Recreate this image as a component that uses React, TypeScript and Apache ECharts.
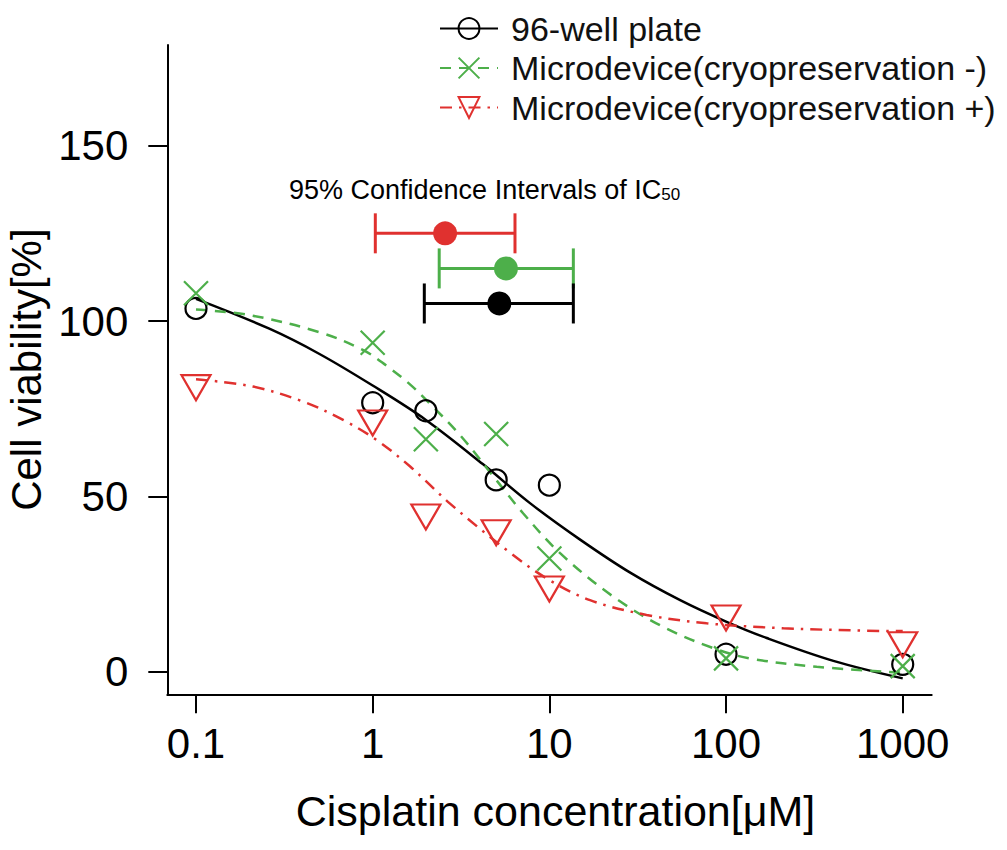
import React, { useEffect, useRef } from 'react';
import * as echarts from 'echarts';

// ---------------- data ----------------
const seriesNames = ['96-well plate', 'Microdevice(cryopreservation -)', 'Microdevice(cryopreservation +)'];

// measured points (concentration in µM, viability in %)
const conc = [0.1, 1, 2, 5, 10, 100, 1000];
const plateViability = [103.6, 76.7, 74.4, 54.7, 53.2, 5.0, 2.1];
const cryoMinusViability = [107.9, 93.8, 66.3, 67.8, 32.3, 3.8, 1.6];
const cryoPlusViability = [82.2, 72.1, 45.3, 40.8, 24.8, 16.5, 8.9];

// fitted dose-response curves
const plateFitConc = [0.1, 0.26, 0.5, 1, 2, 4.2, 7.8, 15, 29, 55, 100, 170, 405, 1000];
const plateFitViability = [106.3, 97.8, 90.6, 81.6, 71.8, 59.2, 48.0, 37.6, 28.1, 20.4, 14.3, 9.6, 3.1, -1.9];

const cryoMinusFitConc = [0.1, 0.2, 0.5, 0.885, 1.2, 1.62, 2.1, 3.12, 5, 7.1, 11.5, 23, 44, 85, 136, 326, 1000];
const cryoMinusFitViability = [103.3, 101.7, 96.8, 91.7, 87.2, 82.0, 76.5, 67.5, 54.7, 45.2, 33.8, 21.4, 12.8, 6.7, 3.8, 1.4, -0.3];

const cryoPlusFitConc = [0.1, 0.21, 0.405, 0.68, 1.05, 1.63, 2.73, 5.73, 9.66, 17, 35.5, 77.6, 211, 625, 1000];
const cryoPlusFitViability = [83.4, 81.3, 77.0, 71.8, 66.1, 58.5, 48.0, 34.7, 26.6, 20.4, 16.2, 13.8, 12.4, 11.7, 11.6];

// 95% confidence intervals of IC50 (order: cryo +, cryo -, 96-well)
const ic50 = [2.57, 5.68, 5.21];
const ciLower = [1.035, 2.38, 1.96];
const ciUpper = [6.39, 13.67, 13.67];
const ciRowY = [125, 115, 105];

// tick labels
const xTickLabels = ['0.1', '1', '10', '100', '1000'];

// ---------------- style ----------------
const FONT = '"Liberation Sans", Arial, Helvetica, sans-serif';
const BLACK = '#000000';
const GREEN = '#4DAF4A';
const RED = '#E0312F';
const ciColors = [RED, GREEN, BLACK];

const CROSS = 'path://M0,0L10,10M10,0L0,10';
const TRI = 'path://M0,0L30,0L15,26Z';
const GREEN_DASH = [11, 8];
const RED_DASHDOT = [12, 7, 2.5, 7];

const pairs = (xs: number[], ys: number[]) => xs.map((x, i) => [x, ys[i]]);

export default function App() {
  const ref = useRef<HTMLDivElement>(null);

  useEffect(() => {
    const chart = echarts.init(ref.current!, null, { renderer: 'svg' });

    const axisTextStyle = { fontSize: 42, lineHeight: 42, color: BLACK, fontFamily: FONT };

    chart.setOption({
      animation: false,
      backgroundColor: '#ffffff',
      textStyle: { fontFamily: FONT },
      grid: [
        { left: 167.3, right: 75.3, top: 45, bottom: 155.7, outerBoundsMode: 'none', containLabel: false },
        { left: 196, right: 104.3, top: 145.7, bottom: 178.3, outerBoundsMode: 'none', containLabel: false },
      ],
      xAxis: [
        {
          gridIndex: 0,
          type: 'log',
          logBase: 10,
          min: 0.0688,
          max: 1459,
          axisLine: { show: true, onZero: false, lineStyle: { color: BLACK, width: 2 } },
          axisTick: { show: false },
          axisLabel: { show: false },
          splitLine: { show: false },
          name: 'Cisplatin concentration[μM]',
          nameLocation: 'middle',
          nameGap: 95,
          nameTextStyle: { ...axisTextStyle, fontSize: 43, lineHeight: 43, padding: [0, 0, 0, 12] },
        },
        {
          gridIndex: 1,
          type: 'log',
          logBase: 10,
          min: 0.1,
          max: 1000,
          position: 'bottom',
          offset: 22.6,
          axisLine: { show: false, onZero: false },
          axisTick: { show: true, length: 19, lineStyle: { color: BLACK, width: 2 } },
          axisLabel: {
            margin: 28,
            ...axisTextStyle,
            formatter: (v: number) => xTickLabels[Math.round(Math.log10(v)) + 1] ?? String(v),
          },
          splitLine: { show: false },
        },
      ],
      yAxis: [
        {
          gridIndex: 0,
          type: 'value',
          min: -6.44,
          max: 178.7,
          axisLine: { show: true, onZero: false, lineStyle: { color: BLACK, width: 2 } },
          axisTick: { show: false },
          axisLabel: { show: false },
          splitLine: { show: false },
          name: 'Cell viability[%]',
          nameLocation: 'middle',
          nameGap: 120,
          nameRotate: 90,
          nameTextStyle: axisTextStyle,
        },
        {
          gridIndex: 1,
          type: 'value',
          min: 0,
          max: 150,
          interval: 50,
          position: 'left',
          offset: 28.7,
          axisLine: { show: false, onZero: false },
          axisTick: { show: true, length: 19, lineStyle: { color: BLACK, width: 2 } },
          axisLabel: { margin: 39, ...axisTextStyle },
          splitLine: { show: false },
        },
      ],
      legend: {
        orient: 'vertical',
        left: 439,
        top: 11.5,
        padding: 0,
        itemWidth: 58,
        itemHeight: 26,
        itemGap: 5.5,
        selectedMode: false,
        textStyle: { fontSize: 34, lineHeight: 34, color: '#111111', fontFamily: FONT, padding: [0, 0, 0, 8] },
        data: [
          {
            name: seriesNames[0],
            itemStyle: { color: 'transparent', borderColor: BLACK, borderWidth: 2 },
            lineStyle: { color: BLACK, width: 2, type: 'solid' },
          },
          {
            name: seriesNames[1],
            itemStyle: { color: 'transparent', borderColor: GREEN, borderWidth: 2 },
            lineStyle: { color: GREEN, width: 2, type: GREEN_DASH },
          },
          {
            name: seriesNames[2],
            itemStyle: { color: 'transparent', borderColor: RED, borderWidth: 2 },
            lineStyle: { color: RED, width: 2, type: RED_DASHDOT },
          },
        ],
      },
      graphic: [
        {
          type: 'text',
          x: 289,
          y: 176,
          silent: true,
          style: {
            text: '{m|95% Confidence Intervals of IC}{s|50}',
            fill: BLACK,
            fontSize: 27,
            fontFamily: FONT,
            align: 'left',
            verticalAlign: 'top',
            rich: {
              m: { fontSize: 27, lineHeight: 27, verticalAlign: 'top', padding: [0, 0, 6, 0], fontFamily: FONT, fill: BLACK },
              s: { fontSize: 17, lineHeight: 17, verticalAlign: 'bottom', fontFamily: FONT, fill: BLACK },
            },
          },
        },
      ],
      series: [
        {
          type: 'line',
          name: seriesNames[0],
          xAxisIndex: 0,
          yAxisIndex: 0,
          data: pairs(plateFitConc, plateFitViability),
          smooth: 0.35,
          showSymbol: false,
          symbol: 'circle',
          silent: true,
          lineStyle: { color: BLACK, width: 2.5, type: 'solid' },
          itemStyle: { color: 'transparent', borderColor: BLACK, borderWidth: 2 },
          z: 2,
        },
        {
          type: 'line',
          name: seriesNames[1],
          xAxisIndex: 0,
          yAxisIndex: 0,
          data: pairs(cryoMinusFitConc, cryoMinusFitViability),
          smooth: 0.35,
          showSymbol: false,
          symbol: CROSS,
          silent: true,
          lineStyle: { color: GREEN, width: 2.5, type: GREEN_DASH },
          itemStyle: { color: 'transparent', borderColor: GREEN, borderWidth: 2 },
          z: 2,
        },
        {
          type: 'line',
          name: seriesNames[2],
          xAxisIndex: 0,
          yAxisIndex: 0,
          data: pairs(cryoPlusFitConc, cryoPlusFitViability),
          smooth: 0.35,
          showSymbol: false,
          symbol: TRI,
          silent: true,
          lineStyle: { color: RED, width: 2.5, type: RED_DASHDOT },
          itemStyle: { color: 'transparent', borderColor: RED, borderWidth: 2 },
          z: 2,
        },
        {
          type: 'scatter',
          name: seriesNames[0],
          xAxisIndex: 0,
          yAxisIndex: 0,
          data: pairs(conc, plateViability),
          symbol: 'circle',
          symbolSize: 21,
          silent: true,
          itemStyle: { color: 'transparent', borderColor: BLACK, borderWidth: 2.2, opacity: 1 },
          z: 3,
        },
        {
          type: 'scatter',
          name: seriesNames[1],
          xAxisIndex: 0,
          yAxisIndex: 0,
          data: pairs(conc, cryoMinusViability),
          symbol: CROSS,
          symbolSize: 24,
          silent: true,
          itemStyle: { color: 'transparent', borderColor: GREEN, borderWidth: 2.2, opacity: 1 },
          z: 3,
        },
        {
          type: 'scatter',
          name: seriesNames[2],
          xAxisIndex: 0,
          yAxisIndex: 0,
          data: pairs(conc, cryoPlusViability),
          symbol: TRI,
          symbolSize: [29, 25],
          symbolOffset: [0, 4.2],
          silent: true,
          itemStyle: { color: 'transparent', borderColor: RED, borderWidth: 2.2, opacity: 1 },
          z: 3,
        },
        {
          type: 'custom',
          xAxisIndex: 0,
          yAxisIndex: 0,
          silent: true,
          z: 4,
          data: ic50.map((c, i) => [c, ciLower[i], ciUpper[i], ciRowY[i]]),
          encode: { x: [0, 1, 2], y: 3 },
          renderItem: (params: any, api: any) => {
            const y = api.value(3);
            const lo = api.coord([api.value(1), y]);
            const hi = api.coord([api.value(2), y]);
            const c = api.coord([api.value(0), y]);
            const color = ciColors[params.dataIndex];
            const s = { stroke: color, lineWidth: 3 };
            return {
              type: 'group',
              children: [
                { type: 'line', shape: { x1: lo[0], y1: lo[1], x2: hi[0], y2: hi[1] }, style: s },
                { type: 'line', shape: { x1: lo[0], y1: lo[1] - 20, x2: lo[0], y2: lo[1] + 20 }, style: s },
                { type: 'line', shape: { x1: hi[0], y1: hi[1] - 20, x2: hi[0], y2: hi[1] + 20 }, style: s },
                { type: 'circle', shape: { cx: c[0], cy: c[1], r: 12 }, style: { fill: color } },
              ],
            };
          },
        },
      ],
    });

    return () => chart.dispose();
  }, []);

  return (
    <div
      ref={ref}
      style={{ position: 'absolute', left: 0, top: 0, width: 1007, height: 850, background: '#fff' }}
    />
  );
}
